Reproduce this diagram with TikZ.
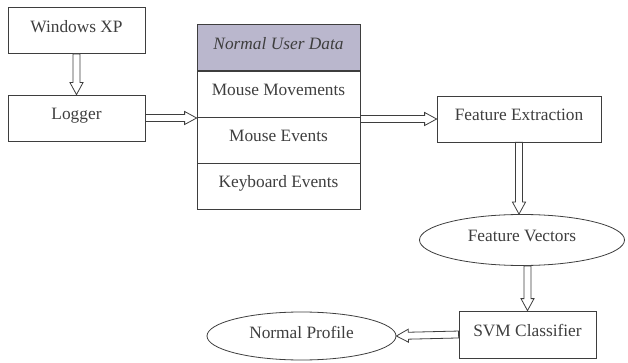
\documentclass[tikz,border=0pt]{standalone}
\usepackage{fontspec}
\setmainfont{Liberation Serif}
\newfontfamily\diagfont{Liberation Serif}
\usetikzlibrary{shapes.geometric,calc}
\definecolor{hdrgray}{RGB}{186,183,205}
\definecolor{inkgray}{RGB}{62,62,62}
\tikzset{
  box/.style={draw=inkgray, line width=0.6pt, rectangle, minimum width=102.75pt,
    minimum height=34.5pt, inner sep=0pt, text=inkgray, text height=9pt, text depth=6pt,
    font=\diagfont\fontsize{13}{15}\selectfont},
  cell/.style={box, minimum width=122.25pt},
  oval/.style={box, ellipse},
  hollow/.style={draw=inkgray, line width=0.6pt, fill=white, line join=miter}
}
% hollow block arrow from #1 to #2
\newcommand{\hollowarrow}[2]{%
  \path ($(#2)!9pt!(#1)$) coordinate (hb);
  \draw[hollow] ($(#1)!2.6pt!90:(#2)$) -- ($(hb)!2.6pt!-90:(#1)$) -- ($(hb)!4.9pt!-90:(#1)$)
    -- (#2) -- ($(hb)!4.9pt!90:(#1)$) -- ($(hb)!2.6pt!90:(#1)$) -- ($(#1)!2.6pt!-90:(#2)$) -- cycle;}

\begin{document}
\begin{tikzpicture}[x=0.75pt,y=0.75pt,yscale=-1,xscale=1]
\useasboundingbox (0,0) rectangle (628,363);

\node[box] (wxp) at (76.5,30.5) {Windows XP};
\node[box] (logger) at (76.5,118) {Logger};

% user data table
\node[cell, fill=hdrgray, font=\diagfont\fontsize{13}{15}\selectfont\itshape] (hdr) at (278.5,47.5) {Normal User Data};
\node[cell] (mm) at (278.5,94) {Mouse Movements};
\node[cell] (me) at (278.5,140) {Mouse Events};
\node[cell] (ke) at (278.5,186) {Keyboard Events};

\node[box, minimum width=123pt] (fe) at (519,119) {Feature Extraction};
\node[oval, minimum width=153.75pt, minimum height=38.25pt] (fv) at (522,240) {Feature Vectors};
\node[box, minimum height=35.25pt] (svm) at (527.5,334.5) {SVM Classifier};
\node[oval, minimum width=141.75pt, minimum height=36pt] (np) at (301.5,336) {Normal Profile};

\coordinate (toTable) at (logger.east -| me.west);
\coordinate (fromTable) at (fe.west -| me.east);
\coordinate (fvTop) at (fe.south |- fv.north);
\coordinate (fvBot) at (svm.north |- fv.south);

\hollowarrow{wxp.south}{logger.north}
\hollowarrow{logger.east}{toTable}
\hollowarrow{fromTable}{fe.west}
\hollowarrow{fe.south}{fvTop}
\hollowarrow{fvBot}{svm.north}
\hollowarrow{svm.west}{np.east}
\end{tikzpicture}
\end{document}
